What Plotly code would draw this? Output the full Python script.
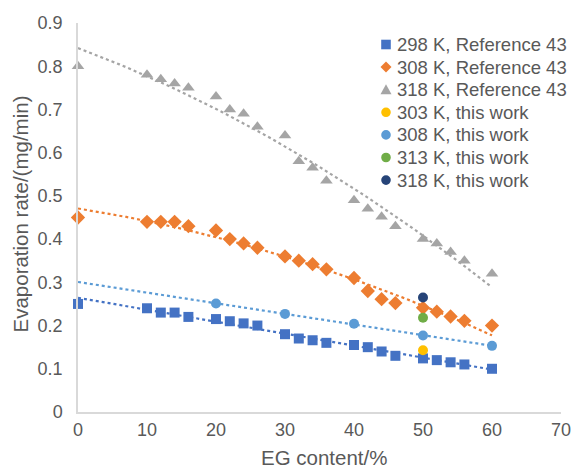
import numpy as np
import plotly.graph_objects as go

# Reference 43 data
x_ref = [0, 10, 12, 14, 16, 20, 22, 24, 26, 30, 32, 34, 36, 40, 42, 44, 46, 50, 52, 54, 56, 60]
y_298_ref = [0.25, 0.24, 0.23, 0.23, 0.22, 0.215, 0.21, 0.205, 0.20, 0.18, 0.17, 0.166, 0.16, 0.155,
             0.15, 0.14, 0.13, 0.124, 0.12, 0.115, 0.11, 0.10]
y_308_ref = [0.45, 0.44, 0.44, 0.44, 0.43, 0.42, 0.40, 0.39, 0.38, 0.36, 0.35, 0.342, 0.33, 0.31,
             0.28, 0.261, 0.252, 0.241, 0.232, 0.221, 0.211, 0.20]
y_318_ref = [0.80, 0.78, 0.77, 0.76, 0.75, 0.73, 0.70, 0.69, 0.66, 0.64, 0.58, 0.565, 0.535, 0.49,
             0.47, 0.452, 0.43, 0.40, 0.39, 0.37, 0.35, 0.32]

# This work data
x_303_tw = [50]
y_303_tw = [0.143]
x_308_tw = [20, 30, 40, 50, 60]
y_308_tw = [0.251, 0.227, 0.204, 0.177, 0.153]
x_313_tw = [50]
y_313_tw = [0.218]
x_318_tw = [50]
y_318_tw = [0.265]

legend_labels = ["298 K, Reference 43", "308 K, Reference 43", "318 K, Reference 43",
                 "303 K, this work", "308 K, this work", "313 K, this work", "318 K, this work"]
x_title = "EG content/%"
y_title = "Evaporation rate/(mg/min)"

C_298 = "#4472C4"
C_308 = "#ED7D31"
C_318 = "#A5A5A5"
C_303T = "#FFC000"
C_308T = "#5B9BD5"
C_313T = "#70AD47"
C_318T = "#264478"

W, H = 575, 471
ML, MR, MT, MB = 78, 14, 23, 59
PW, PH = W - ML - MR, H - MT - MB

fig = go.Figure()

def trend(xs, ys, deg, color):
    p = np.polyfit(xs, ys, deg)
    xt = np.linspace(0, 60, 61)
    fig.add_trace(go.Scatter(x=xt, y=np.polyval(p, xt), mode="lines",
                             line=dict(color=color, width=2.2, dash="dot"),
                             showlegend=False, hoverinfo="skip", cliponaxis=False))

trend(x_ref, y_298_ref, 1, C_298)
trend(x_ref, y_308_ref, 2, C_308)
trend(x_ref, y_318_ref, 2, C_318)
trend(x_308_tw, y_308_tw, 1, C_308T)

series = [
    (x_ref, y_298_ref, "square", 10, C_298),
    (x_ref, y_308_ref, "diamond", 11, C_308),
    (x_ref, y_318_ref, "triangle-up", 11, C_318),
    (x_303_tw, y_303_tw, "circle", 10, C_303T),
    (x_308_tw, y_308_tw, "circle", 10, C_308T),
    (x_313_tw, y_313_tw, "circle", 10, C_313T),
    (x_318_tw, y_318_tw, "circle", 10, C_318T),
]
for (xs, ys, sym, sz, col), name in zip(series, legend_labels):
    fig.add_trace(go.Scatter(x=xs, y=ys, mode="markers", name=name, showlegend=False,
                             cliponaxis=False,
                             marker=dict(symbol=sym, size=sz, color=col)))

font_color = "#595959"

def px_to_paper(px, py):
    return (px - ML) / PW, (H - MB - py) / PH

# Axis titles as annotations placed in pixel terms
tx, ty = px_to_paper(324, 457.5)
fig.add_annotation(x=tx, y=ty, xref="paper", yref="paper", text=x_title, showarrow=False,
                   xanchor="center", yanchor="middle", borderpad=0,
                   font=dict(size=20.5, color=font_color))
tx, ty = px_to_paper(19.5, 214)
fig.add_annotation(x=tx, y=ty, xref="paper", yref="paper", text=y_title, showarrow=False,
                   textangle=-90, xanchor="center", yanchor="middle",
                   font=dict(size=20.5, color=font_color))

# Manual legend (text as annotations, keys as shapes), positioned in pixels
LEG_TEXT_X = 395
LEG_KEY_X = 386
LEG_Y0 = 44.5
LEG_DY = 22.6

shapes = []
for i, ((xs, ys, sym, sz, col), name) in enumerate(zip(series, legend_labels)):
    cy = LEG_Y0 + i * LEG_DY
    tx, ty = px_to_paper(LEG_TEXT_X, cy)
    fig.add_annotation(x=tx, y=ty, xref="paper", yref="paper", text=name, showarrow=False,
                       xanchor="left", yanchor="middle",
                       font=dict(size=18.5, color=font_color))
    r = 4.8
    if sym == "square":
        x0, y0 = px_to_paper(LEG_KEY_X - r, cy + r)
        x1, y1 = px_to_paper(LEG_KEY_X + r, cy - r)
        shapes.append(dict(type="rect", xref="paper", yref="paper", x0=x0, y0=y0, x1=x1, y1=y1,
                           fillcolor=col, line=dict(width=0)))
    elif sym == "diamond":
        pts = [(LEG_KEY_X, cy - 5.5), (LEG_KEY_X + 5.5, cy), (LEG_KEY_X, cy + 5.5), (LEG_KEY_X - 5.5, cy)]
        pp = [px_to_paper(a, b) for a, b in pts]
        path = "M " + " L ".join(f"{a},{b}" for a, b in pp) + " Z"
        shapes.append(dict(type="path", xref="paper", yref="paper", path=path,
                           fillcolor=col, line=dict(width=0)))
    elif sym == "triangle-up":
        pts = [(LEG_KEY_X, cy - 5.5), (LEG_KEY_X + 5.5, cy + 4.5), (LEG_KEY_X - 5.5, cy + 4.5)]
        pp = [px_to_paper(a, b) for a, b in pts]
        path = "M " + " L ".join(f"{a},{b}" for a, b in pp) + " Z"
        shapes.append(dict(type="path", xref="paper", yref="paper", path=path,
                           fillcolor=col, line=dict(width=0)))
    else:
        x0, y0 = px_to_paper(LEG_KEY_X - r, cy + r)
        x1, y1 = px_to_paper(LEG_KEY_X + r, cy - r)
        shapes.append(dict(type="circle", xref="paper", yref="paper", x0=x0, y0=y0, x1=x1, y1=y1,
                           fillcolor=col, line=dict(width=0)))

fig.update_layout(
    width=W, height=H,
    margin=dict(l=ML, r=MR, t=MT, b=MB, autoexpand=False),
    paper_bgcolor="white", plot_bgcolor="white",
    font=dict(family="Liberation Sans, Arial, sans-serif", size=18, color=font_color),
    showlegend=False,
    shapes=shapes,
)
fig.update_xaxes(range=[0, 70], tickvals=[0, 10, 20, 30, 40, 50, 60, 70],
                 showgrid=False, zeroline=False, showline=True, linecolor="#D9D9D9", linewidth=1.5,
                 ticks="", ticklabelstandoff=1, tickfont=dict(size=18), automargin=False)
fig.update_yaxes(range=[0, 0.9], tickvals=[0, 0.1, 0.2, 0.3, 0.4, 0.5, 0.6, 0.7, 0.8, 0.9],
                 ticktext=["0", "0.1", "0.2", "0.3", "0.4", "0.5", "0.6", "0.7", "0.8", "0.9"],
                 showgrid=False, zeroline=False, showline=True, linecolor="#D9D9D9", linewidth=1.5,
                 ticks="", ticklabelstandoff=10, tickfont=dict(size=18), automargin=False)

fig.write_html("out.html")
